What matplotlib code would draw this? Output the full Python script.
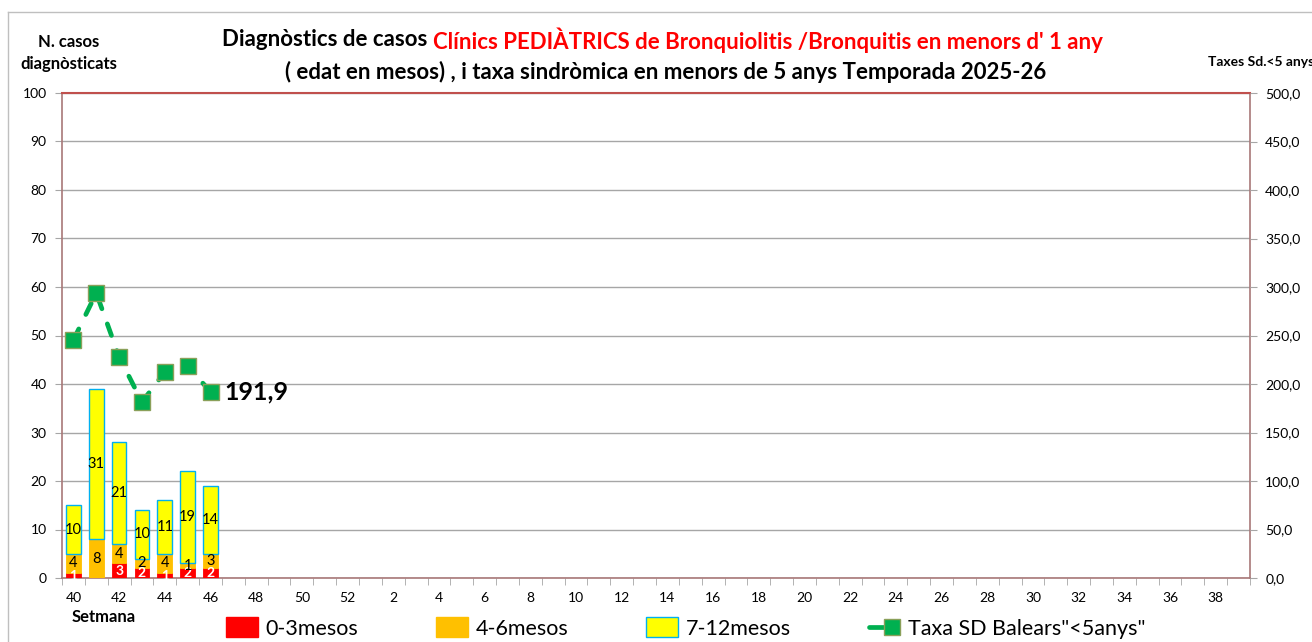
# -*- coding: utf-8 -*-
"""
Bronquiolitis / bronquitis en menors d'1 any, temporada 2025-26.
"""

import matplotlib
matplotlib.use("Agg")
import matplotlib.pyplot as plt
from matplotlib.lines import Line2D
from matplotlib.patches import Patch
from matplotlib.legend_handler import HandlerLine2D
from matplotlib.ticker import FuncFormatter, MultipleLocator

plt.rcParams['font.family'] = ['Lato', 'DejaVu Sans']

# setmanes epidemiologiques de la temporada (40..52, 1..39)
setmanes = list(range(40, 53)) + list(range(1, 40))

# casos per grup d'edat (nomes setmanes amb dades)
casos_0_3 = [1, 0, 3, 2, 1, 2, 2]
casos_4_6 = [4, 8, 4, 2, 4, 1, 3]
casos_7_12 = [10, 31, 21, 10, 11, 19, 14]

# taxa sindromica <5 anys
taxa_sd = [245.4, 293.8, 228.0, 181.4, 212.4, 218.6, 191.9]


class HandlerLineMarkerRight(HandlerLine2D):
    """Short line on the left, marker on the right (like Excel)."""

    def create_artists(self, legend, orig_handle, xdescent, ydescent,
                       width, height, fontsize, trans):
        y = height / 2 - ydescent
        line = Line2D([-xdescent, -xdescent + width * 0.55], [y, y],
                      color=orig_handle.get_color(),
                      linewidth=orig_handle.get_linewidth(),
                      solid_capstyle="round", transform=trans)
        mark = Line2D([-xdescent + width * 0.72], [y], linestyle="none",
                      marker=orig_handle.get_marker(),
                      markersize=orig_handle.get_markersize(),
                      markerfacecolor=orig_handle.get_markerfacecolor(),
                      markeredgecolor=orig_handle.get_markeredgecolor(),
                      transform=trans)
        return [line, mark]


W, H = 1312, 642
fig = plt.figure(figsize=(W / 100, H / 100), dpi=100)
ax = fig.add_axes([62 / W, 1 - 578 / H, (1250 - 62) / W, (578 - 93) / H])

n = len(setmanes)
pos = list(range(len(casos_0_3)))
width = 0.64

# barres apilades
ax.bar(pos, casos_0_3, width, color="#FF0000", edgecolor="#FF0000",
       linewidth=0.6, zorder=3)
bottom2 = casos_0_3
ax.bar(pos, casos_4_6, width, bottom=bottom2, color="#FFC000",
       edgecolor="#FFC000", linewidth=0.6, zorder=3)
bottom3 = [a + b for a, b in zip(casos_0_3, casos_4_6)]
ax.bar(pos, casos_7_12, width, bottom=bottom3, color="#FFFF00",
       edgecolor="#00B0F0", linewidth=1.0, zorder=3)

# etiquetes de les barres
for i in pos:
    if casos_0_3[i] > 0:
        ax.text(i, casos_0_3[i] / 2, str(casos_0_3[i]), ha="center",
                va="center", color="white", fontsize=10, fontweight="bold",
                zorder=5)
    ax.text(i, bottom2[i] + casos_4_6[i] / 2, str(casos_4_6[i]), ha="center",
            va="center", color="black", fontsize=10.5, zorder=5)
    ax.text(i, bottom3[i] + casos_7_12[i] / 2, str(casos_7_12[i]),
            ha="center", va="center", color="black", fontsize=10.5, zorder=5)

ax.set_xlim(-0.5, n - 0.5)
ax.set_ylim(0, 100)
ax.yaxis.set_major_locator(MultipleLocator(10))
ax.grid(axis="y", color="#A6A6A6", linewidth=1, zorder=0)
ax.set_axisbelow(True)

# eix x: etiquetes cada dues setmanes, marques entre categories
ax.set_xticks(list(range(0, n, 2)))
ax.set_xticklabels([str(setmanes[i]) for i in range(0, n, 2)], fontsize=10)
ax.set_xticks([i - 0.5 for i in range(n + 1)], minor=True)
ax.tick_params(axis="x", which="major", length=0, pad=10)
ax.tick_params(axis="x", which="minor", length=5, color="#A6A6A6")
ax.tick_params(axis="y", length=5, color="#A6A6A6", labelsize=10, pad=6)

for side in ["left", "bottom", "right"]:
    ax.spines[side].set_color("#A87878")
    ax.spines[side].set_linewidth(1.2)
ax.spines["top"].set_color("#C0504D")
ax.spines["top"].set_linewidth(1.5)

# taxa en eix secundari
ax2 = ax.twinx()
ax2.set_ylim(0, 500)
ax2.yaxis.set_major_locator(MultipleLocator(50))
ax2.yaxis.set_major_formatter(
    FuncFormatter(lambda v, p: ("%.1f" % v).replace(".", ",")))
ax2.tick_params(axis="y", length=5, color="#A6A6A6", labelsize=10, pad=6)
for side in ["left", "bottom", "right", "top"]:
    ax2.spines[side].set_visible(False)

ax2.plot(pos, taxa_sd, color="#00B050", linewidth=3.4, dashes=(2.6, 3.4),
         dash_capstyle="round", marker="s", markersize=11.5,
         markerfacecolor="#00B050", markeredgecolor="#8AA05A",
         markeredgewidth=1, zorder=4)
ax2.annotate(("%.1f" % taxa_sd[-1]).replace(".", ","),
             xy=(pos[-1], taxa_sd[-1]), xytext=(10, 0),
             textcoords="offset points", ha="left", va="center",
             fontsize=18, fontweight="bold")

# titol en dos colors
fig.text(433 / W, 1 - 40 / H, "Diagnòstics de casos ", ha="right",
         va="center", fontsize=16, fontweight="bold", color="black")
fig.text(433 / W, 1 - 40 / H,
         "Clínics PEDIÀTRICS de Bronquiolitis /Bronquitis en menors d' 1 any",
         ha="left", va="center", fontsize=16, fontweight="bold",
         color="#FF0000")
fig.text(666 / W, 1 - 72 / H,
         "( edat en mesos) , i taxa sindròmica en menors de 5 anys "
         "Temporada 2025-26", ha="center", va="center", fontsize=16,
         fontweight="bold")

# titols d'eixos
fig.text(69 / W, 1 - 53 / H, "N. casos\ndiagnòsticats", ha="center",
         va="center", fontsize=12, fontweight="bold", linespacing=1.5)
fig.text(1208 / W, 1 - 62 / H, "Taxes Sd.<5 anys", ha="left",
         va="center", fontsize=10, fontweight="bold")
fig.text(104 / W, 1 - 617 / H, "Setmana", ha="center", va="center",
         fontsize=12, fontweight="bold")

# marc del grafic
fig.add_artist(Line2D([8 / W, 8 / W], [0, 1 - 12 / H], color="#BFBFBF",
                      linewidth=1, transform=fig.transFigure))
fig.add_artist(Line2D([8 / W, 1], [1 - 12 / H, 1 - 12 / H], color="#BFBFBF",
                      linewidth=1, transform=fig.transFigure))

# llegenda
taxa_handle = Line2D([0], [0], color="#00B050", linewidth=3.4, marker="s",
                     markersize=11.5, markerfacecolor="#00B050",
                     markeredgecolor="#8AA05A")
handles = [Patch(facecolor="#FF0000", edgecolor="#FF0000"),
           Patch(facecolor="#FFC000", edgecolor="#FFC000"),
           Patch(facecolor="#FFFF00", edgecolor="#00B0F0"),
           taxa_handle]
labels = ["0-3mesos", "4-6mesos", "7-12mesos", 'Taxa SD Balears"<5anys"']
fig.legend(handles, labels, loc="center", bbox_to_anchor=(686 / W, 1 - 628 / H),
           ncol=4, frameon=False, fontsize=15.5, handlelength=1.5,
           handleheight=1.0, handletextpad=0.35, columnspacing=3.6,
           handler_map={taxa_handle: HandlerLineMarkerRight()})

fig.savefig("out.png", dpi=100)
